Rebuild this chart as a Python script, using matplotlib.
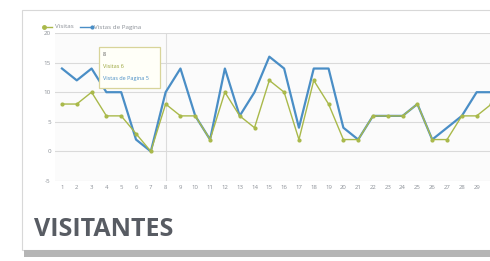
import numpy as np
import matplotlib
matplotlib.use("Agg")
import matplotlib.pyplot as plt
from matplotlib.patches import Rectangle
from matplotlib.lines import Line2D

plt.rcParams.update({"font.family": ["Open Sans", "DejaVu Sans"]})

days = list(range(1, 31))
vistas_pagina = [14, 12, 14, 10, 10, 2, 0, 10, 14, 6, 2, 14, 6, 10, 16, 14, 4, 14, 14, 4, 2, 6, 6, 6, 8, 2, 4, 6, 10, 10]
visitas = [8, 8, 10, 6, 6, 3, 0, 8, 6, 6, 2, 10, 6, 4, 12, 10, 2, 12, 8, 2, 2, 6, 6, 6, 8, 2, 2, 6, 6, 8]
y_ticks = [20, 15, 10, 5, 0, -5]
tooltip_lines = ["8", "Visitas 6", "Vistas de Pagina 5"]

C_BLUE = "#4a8ec6"
C_YEL = "#a9b94a"
C_TXT = "#8a8f96"

fig = plt.figure(figsize=(4.9, 2.61), dpi=100)
W, H = 490, 261

def fx(px):
    return px / W

def fy(py):
    return 1 - py / H

# card frame + shadow
fig.patches.append(Rectangle((fx(22), fy(250)), fx(490), fy(10) - fy(250), transform=fig.transFigure,
                             facecolor="white", edgecolor="#d8d8d8", linewidth=0.8, zorder=-2))
fig.patches.append(Rectangle((fx(24), fy(257)), fx(470), fy(250) - fy(257), transform=fig.transFigure,
                             facecolor="#b5b5b5", edgecolor="none", zorder=-2))

ax = fig.add_axes([fx(55), fy(181), fx(435), fy(33) - fy(181)])
ax.set_zorder(1)
ax.set_facecolor("#fbfbfb")
ax.plot(days, vistas_pagina, color=C_BLUE, linewidth=1.6, zorder=3)
ax.plot(days, visitas, color=C_YEL, linewidth=1.0, marker="o", markersize=2, zorder=4)
ax.axvline(8, color="#dcdcdc", linewidth=0.8, zorder=1)

ax.set_xlim(0.53, 29.9)
ax.set_ylim(-5, 20)
ax.set_yticks(y_ticks)
ax.set_yticklabels([str(v) for v in y_ticks], fontsize=4.5, color=C_TXT)
ax.set_xticks(days[:29])
ax.set_xticklabels([str(d) for d in days[:29]], fontsize=4.3, color=C_TXT)
ax.tick_params(length=0, pad=3)
ax.yaxis.grid(True, color="#dadada", linewidth=0.8)
for s in ax.spines.values():
    s.set_visible(False)

# legend
fig.add_artist(Line2D([fx(44), fx(52)], [fy(27), fy(27)], color=C_YEL, linewidth=1, marker="o",
                      markersize=2.5, markevery=[0], transform=fig.transFigure))
fig.text(fx(55), fy(27), "Visitas", fontsize=4.5, color=C_TXT, va="center")
fig.add_artist(Line2D([fx(80), fx(92)], [fy(27), fy(27)], color=C_BLUE, linewidth=1, marker="o",
                      markersize=2, markevery=[1], transform=fig.transFigure))
fig.text(fx(94), fy(27), "Vistas de Pagina", fontsize=4.5, color=C_TXT, va="center")

# tooltip
tip = Rectangle((fx(99), fy(88)), fx(61), fy(47) - fy(88), transform=fig.transFigure,
                facecolor="#fffff8", edgecolor="#d8d49a", linewidth=0.9, zorder=5)
fig.add_artist(tip)
fig.text(fx(103), fy(54), tooltip_lines[0], fontsize=4, color="#555555", va="center", zorder=6)
fig.text(fx(103), fy(66), tooltip_lines[1], fontsize=4, color="#9aa53a", va="center", zorder=6)
fig.text(fx(103), fy(78), tooltip_lines[2], fontsize=4, color=C_BLUE, va="center", zorder=6)

fig.text(fx(34), fy(229), "VISITANTES", fontsize=18, fontweight="bold", color="#585c63",
         va="center", ha="left", family=["Liberation Sans Narrow", "Open Sans", "DejaVu Sans"])

fig.savefig("out.png", dpi=100)
